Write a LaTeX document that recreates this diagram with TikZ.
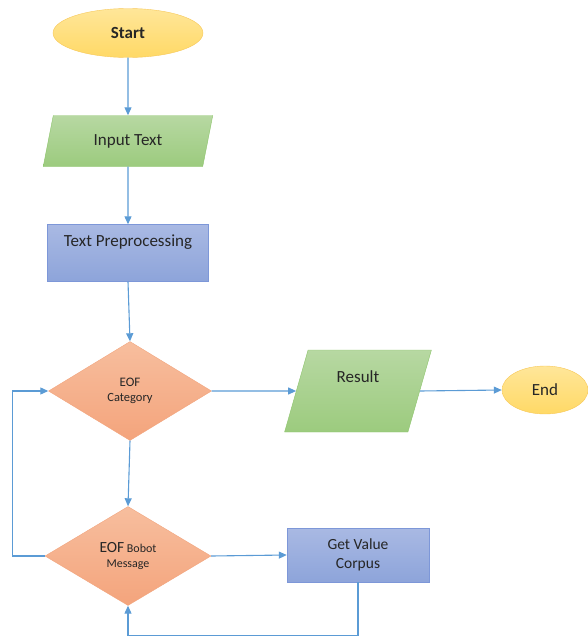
\documentclass[tikz,border=0pt]{standalone}
\usepackage{fontspec}
\setmainfont{Carlito}
\definecolor{flowLine}{HTML}{5B9BD5}
\definecolor{flowText}{HTML}{262626}
\definecolor{termTop}{HTML}{FFE699}
\definecolor{termBot}{HTML}{FFD966}
\definecolor{termEdge}{HTML}{F7C85A}
\definecolor{ioTop}{HTML}{B7D8A2}
\definecolor{ioBot}{HTML}{9CCB7E}
\definecolor{ioEdge}{HTML}{8CC46B}
\definecolor{procTop}{HTML}{A9B9E3}
\definecolor{procBot}{HTML}{8DA4DA}
\definecolor{procEdge}{HTML}{7D97D8}
\definecolor{decTop}{HTML}{F7BE9E}
\definecolor{decBot}{HTML}{F4A47C}
\definecolor{decEdge}{HTML}{F2A57E}
\usetikzlibrary{shapes.geometric, arrows.meta}

\begin{document}
\begin{tikzpicture}[x=1pt, y=-1pt,
  flow/.style={draw=flowLine, line width=1.1pt,
    -{Triangle[length=8pt, width=7pt]}},
  terminal/.style={ellipse, draw=termEdge, top color=termTop,
    bottom color=termBot, text=flowText, font=\fontsize{17}{20}\selectfont},
  io/.style={trapezium, trapezium left angle=76, trapezium right angle=104,
    trapezium stretches=true, draw=ioEdge, top color=ioTop,
    bottom color=ioBot, text=flowText, font=\fontsize{17}{20}\selectfont},
  process/.style={rectangle, draw=procEdge, top color=procTop,
    bottom color=procBot, text=flowText, align=center},
  decision/.style={diamond, draw=decEdge, top color=decTop,
    bottom color=decBot, text=flowText, align=center, inner sep=0pt}]
  \useasboundingbox (0,0) rectangle (587,637);

  \node[terminal, minimum width=150pt, minimum height=49pt,
    font=\fontsize{17}{20}\selectfont\bfseries] (start) at (128,33) {Start};
  \node[io, minimum width=171pt, minimum height=51pt] (input) at (128,141)
    {Input Text};
  \node[process, minimum width=161pt, minimum height=57pt, text depth=24pt,
    font=\fontsize{17}{20}\selectfont] (prep) at (128,253) {Text Preprocessing};
  \node[decision, minimum width=163pt, minimum height=99pt,
    font=\fontsize{12.5}{15}\selectfont] (cat) at (130,391)
    {{\fontsize{13}{15}\selectfont EOF}\\Category};
  \node[io, minimum width=147pt, minimum height=82pt, text depth=28pt]
    (res) at (358,391) {Result};
  \node[terminal, minimum width=86pt, minimum height=48pt] (end) at (545,390)
    {End};
  \node[decision, minimum width=166pt, minimum height=99pt,
    font=\fontsize{12}{15}\selectfont] (msg) at (128,556)
    {{\fontsize{15.5}{15}\selectfont EOF} Bobot\\Message};
  \node[process, minimum width=142pt, minimum height=54pt,
    font=\fontsize{15.5}{19}\selectfont] (corpus) at (358,555)
    {Get Value\\Corpus};

  \draw[flow] (start.south) -- (input.north);
  \draw[flow] (input.south) -- (prep.north);
  \draw[flow] (prep.south) -- (cat.north);
  \draw[flow] (cat.south) -- (msg.north);
  \draw[flow] (cat.east) -- (res.west);
  \draw[flow] (res.east) -- (end.west);
  \draw[flow] (msg.east) -- (corpus.west);
  \draw[flow] (msg.west) -- ++(-32,0) |- (cat.west);
  \draw[flow] (corpus.south) -- ++(0,53) -| (msg.south);
\end{tikzpicture}
\end{document}
